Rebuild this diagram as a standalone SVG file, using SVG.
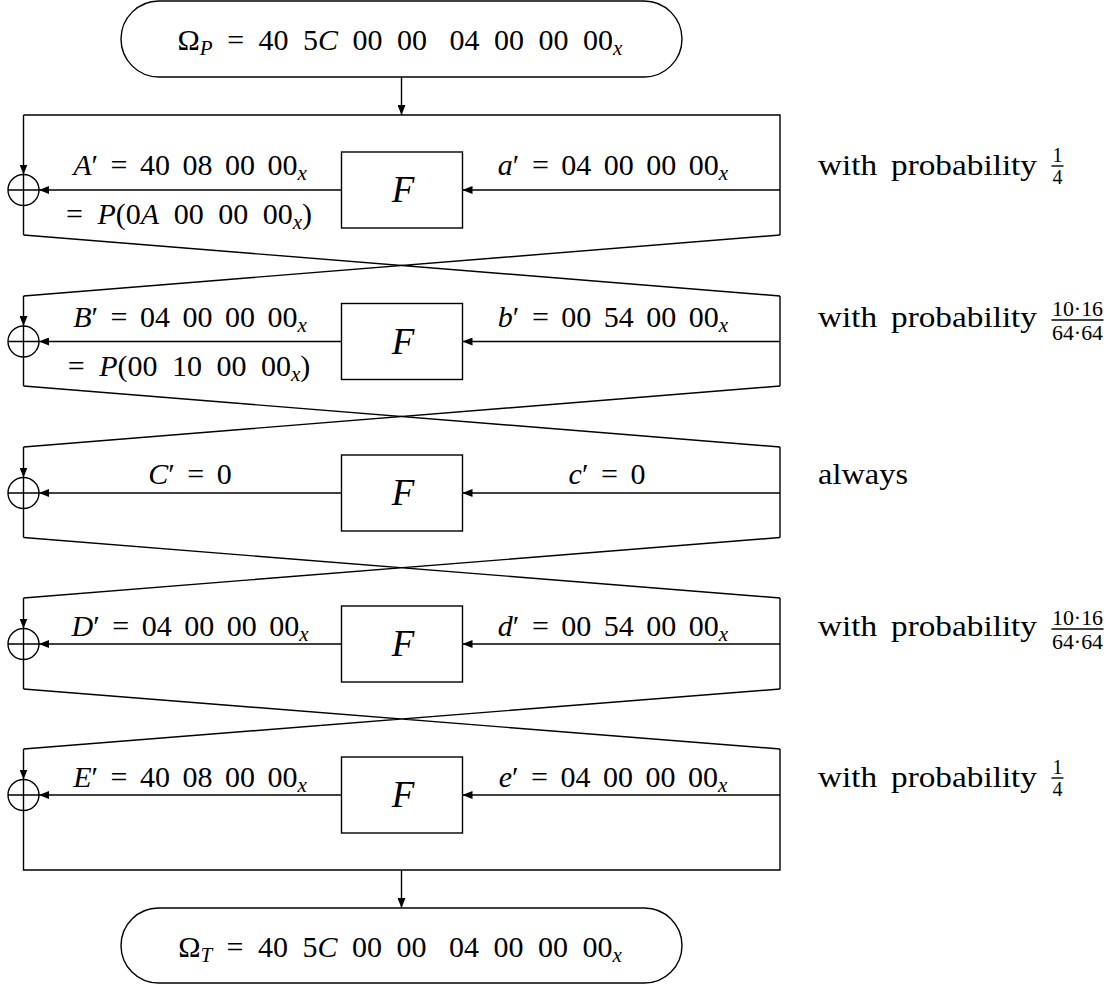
<svg xmlns="http://www.w3.org/2000/svg" width="1119" height="984" viewBox="0 0 1119 984">
<style>
.ln{fill:none;stroke:#000;stroke-width:1.4}
.bx{fill:#fff;stroke:#000;stroke-width:1.4}
.t{font-family:"Liberation Serif","DejaVu Serif",serif;font-size:30px;fill:#000;word-spacing:5px}
.tw{word-spacing:7px}
.i{font-style:italic}
.s{font-size:21px;font-style:italic}
.F{font-family:"Liberation Serif","DejaVu Serif",serif;font-size:37px;font-style:italic;fill:#000}
.fr{font-family:"Liberation Serif","DejaVu Serif",serif;font-size:20px;fill:#000}
</style>
<defs>
<marker id="ah" viewBox="0 0 10 8" refX="10" refY="4" markerWidth="10" markerHeight="8" markerUnits="userSpaceOnUse" orient="auto">
<path d="M0,0 L10,4 L0,8 z" fill="#000"/>
</marker>
</defs>

<g id="connectors">
<path class="ln" d="M401.5,77 V115" marker-end="url(#ah)"/>
<path class="ln" d="M401.5,870 V908" marker-end="url(#ah)"/>
<!-- round 1 -->
<path class="ln" d="M23.5,115 H780 V235"/>
<path class="ln" d="M23.5,115 V174.5" marker-end="url(#ah)"/>
<path class="ln" d="M23.5,205.5 V235"/>
<path class="ln" d="M780,190 H462.5" marker-end="url(#ah)"/>
<path class="ln" d="M341.5,190 H39" marker-end="url(#ah)"/>
<path class="ln" d="M23.5,235 L780,296 M780,235 L23.5,296"/>
<!-- round 2 -->
<path class="ln" d="M780,296 V386"/>
<path class="ln" d="M23.5,296 V326" marker-end="url(#ah)"/>
<path class="ln" d="M23.5,357 V386"/>
<path class="ln" d="M780,341.5 H462.5" marker-end="url(#ah)"/>
<path class="ln" d="M341.5,341.5 H39" marker-end="url(#ah)"/>
<path class="ln" d="M23.5,386 L780,447 M780,386 L23.5,447"/>
<!-- round 3 -->
<path class="ln" d="M780,447 V537.5"/>
<path class="ln" d="M23.5,447 V477.5" marker-end="url(#ah)"/>
<path class="ln" d="M23.5,508.5 V537.5"/>
<path class="ln" d="M780,493 H462.5" marker-end="url(#ah)"/>
<path class="ln" d="M341.5,493 H39" marker-end="url(#ah)"/>
<path class="ln" d="M23.5,537.5 L780,598 M780,537.5 L23.5,598"/>
<!-- round 4 -->
<path class="ln" d="M780,598 V689"/>
<path class="ln" d="M23.5,598 V628.5" marker-end="url(#ah)"/>
<path class="ln" d="M23.5,659.5 V689"/>
<path class="ln" d="M780,644 H462.5" marker-end="url(#ah)"/>
<path class="ln" d="M341.5,644 H39" marker-end="url(#ah)"/>
<path class="ln" d="M23.5,689 L780,749 M780,689 L23.5,749"/>
<!-- round 5 -->
<path class="ln" d="M23.5,749 V779.5" marker-end="url(#ah)"/>
<path class="ln" d="M23.5,810.5 V870 H780 V749"/>
<path class="ln" d="M780,795 H462.5" marker-end="url(#ah)"/>
<path class="ln" d="M341.5,795 H39" marker-end="url(#ah)"/>
</g>

<g id="start">
<rect class="bx" x="121" y="1" width="561" height="76" rx="38" ry="38"/>
<text class="t tw" x="400" y="50" text-anchor="middle">Ω<tspan class="s" dy="5">P</tspan><tspan dy="-5"> = 40 5</tspan><tspan class="i">C</tspan> 00 00<tspan dx="8"> 04 00 00 00</tspan><tspan class="s" dy="5">x</tspan></text>
</g>
<g id="end">
<rect class="bx" x="121" y="908" width="561" height="75" rx="37.5" ry="37.5"/>
<text class="t tw" x="400" y="957" text-anchor="middle">Ω<tspan class="s" dy="5">T</tspan><tspan dy="-5"> = 40 5</tspan><tspan class="i">C</tspan> 00 00<tspan dx="8"> 04 00 00 00</tspan><tspan class="s" dy="5">x</tspan></text>
</g>

<g id="F1"><rect class="bx" x="341.5" y="152" width="121" height="76"/><text class="F" x="403" y="202" text-anchor="middle">F</text></g>
<g id="F2"><rect class="bx" x="341.5" y="303.5" width="121" height="76"/><text class="F" x="403" y="353.5" text-anchor="middle">F</text></g>
<g id="F3"><rect class="bx" x="341.5" y="455" width="121" height="76"/><text class="F" x="403" y="505" text-anchor="middle">F</text></g>
<g id="F4"><rect class="bx" x="341.5" y="606" width="121" height="76"/><text class="F" x="403" y="656" text-anchor="middle">F</text></g>
<g id="F5"><rect class="bx" x="341.5" y="757" width="121" height="76"/><text class="F" x="403" y="807" text-anchor="middle">F</text></g>

<g id="X1"><circle class="ln" cx="23.5" cy="190" r="15.5"/><path class="ln" d="M8,190 H39 M23.5,174.5 V205.5"/></g>
<g id="X2"><circle class="ln" cx="23.5" cy="341.5" r="15.5"/><path class="ln" d="M8,341.5 H39 M23.5,326 V357"/></g>
<g id="X3"><circle class="ln" cx="23.5" cy="493" r="15.5"/><path class="ln" d="M8,493 H39 M23.5,477.5 V508.5"/></g>
<g id="X4"><circle class="ln" cx="23.5" cy="644" r="15.5"/><path class="ln" d="M8,644 H39 M23.5,628.5 V659.5"/></g>
<g id="X5"><circle class="ln" cx="23.5" cy="795" r="15.5"/><path class="ln" d="M8,795 H39 M23.5,779.5 V810.5"/></g>

<g id="labels">
<text class="t" x="190" y="175" text-anchor="middle"><tspan class="i">A</tspan>′ = 40 08 00 00<tspan class="s" dy="5">x</tspan></text>
<text class="t tw" x="189" y="224" text-anchor="middle">= <tspan class="i">P</tspan>(0<tspan class="i">A</tspan> 00 00 00<tspan class="s" dy="5">x</tspan><tspan dy="-5">)</tspan></text>
<text class="t" x="613" y="175" text-anchor="middle"><tspan class="i">a</tspan>′ = 04 00 00 00<tspan class="s" dy="5">x</tspan></text>

<text class="t" x="190" y="327" text-anchor="middle"><tspan class="i">B</tspan>′ = 04 00 00 00<tspan class="s" dy="5">x</tspan></text>
<text class="t tw" x="189" y="376" text-anchor="middle">= <tspan class="i">P</tspan>(00 10 00 00<tspan class="s" dy="5">x</tspan><tspan dy="-5">)</tspan></text>
<text class="t" x="613" y="327" text-anchor="middle"><tspan class="i">b</tspan>′ = 00 54 00 00<tspan class="s" dy="5">x</tspan></text>

<text class="t" x="190" y="484" text-anchor="middle"><tspan class="i">C</tspan>′ = 0</text>
<text class="t" x="607" y="484" text-anchor="middle"><tspan class="i">c</tspan>′ = 0</text>

<text class="t" x="190" y="636" text-anchor="middle"><tspan class="i">D</tspan>′ = 04 00 00 00<tspan class="s" dy="5">x</tspan></text>
<text class="t" x="613" y="636" text-anchor="middle"><tspan class="i">d</tspan>′ = 00 54 00 00<tspan class="s" dy="5">x</tspan></text>

<text class="t" x="190" y="787" text-anchor="middle"><tspan class="i">E</tspan>′ = 40 08 00 00<tspan class="s" dy="5">x</tspan></text>
<text class="t" x="613" y="787" text-anchor="middle"><tspan class="i">e</tspan>′ = 04 00 00 00<tspan class="s" dy="5">x</tspan></text>
</g>

<g id="probabilities">
<text class="t" x="818" y="175" textLength="219" lengthAdjust="spacingAndGlyphs">with probability</text>
<text class="fr" x="1057.5" y="162" text-anchor="middle">1</text>
<path class="ln" d="M1051.5,166 H1063.5"/>
<text class="fr" x="1057.5" y="184" text-anchor="middle">4</text>

<text class="t" x="818" y="327" textLength="219" lengthAdjust="spacingAndGlyphs">with probability</text>
<text class="fr" x="1052" y="316" textLength="51" lengthAdjust="spacingAndGlyphs">10·16</text>
<path class="ln" d="M1051.5,320 H1103.5"/>
<text class="fr" x="1052" y="340" textLength="51" lengthAdjust="spacingAndGlyphs">64·64</text>

<text class="t" x="818" y="484" textLength="90" lengthAdjust="spacingAndGlyphs">always</text>

<text class="t" x="818" y="636" textLength="219" lengthAdjust="spacingAndGlyphs">with probability</text>
<text class="fr" x="1052" y="625" textLength="51" lengthAdjust="spacingAndGlyphs">10·16</text>
<path class="ln" d="M1051.5,629 H1103.5"/>
<text class="fr" x="1052" y="649" textLength="51" lengthAdjust="spacingAndGlyphs">64·64</text>

<text class="t" x="818" y="787" textLength="219" lengthAdjust="spacingAndGlyphs">with probability</text>
<text class="fr" x="1057.5" y="774" text-anchor="middle">1</text>
<path class="ln" d="M1051.5,778 H1063.5"/>
<text class="fr" x="1057.5" y="796" text-anchor="middle">4</text>
</g>
</svg>
